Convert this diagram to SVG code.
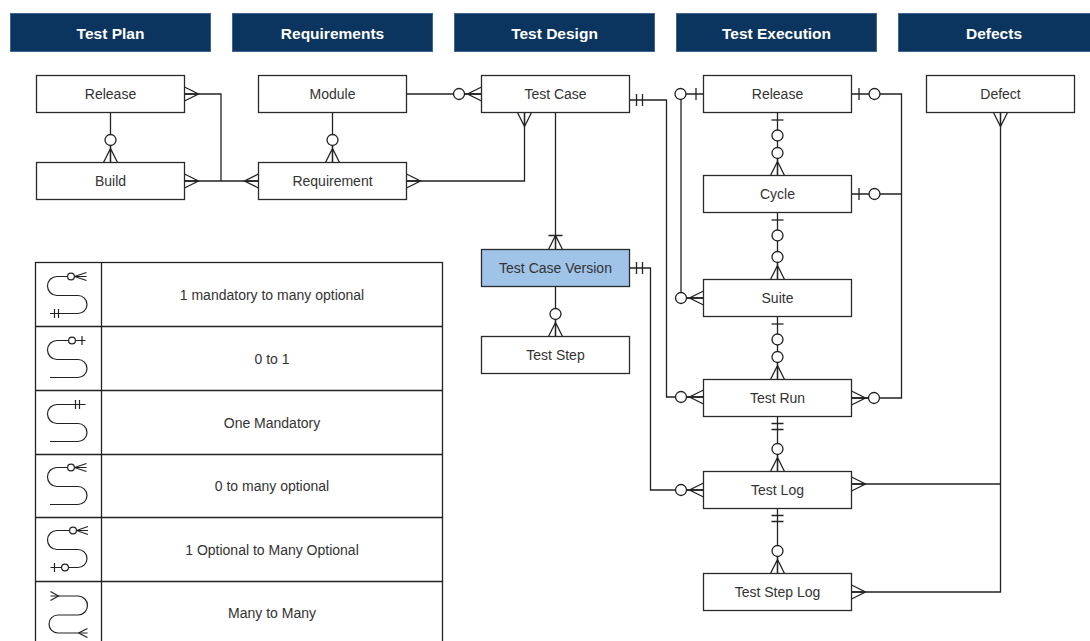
<svg xmlns="http://www.w3.org/2000/svg" xmlns:xlink="http://www.w3.org/1999/xlink" width="1090" height="641" viewBox="0 0 1090 641">
  <style>
    .hdr rect { fill: #0b355f; stroke: #3f6592; stroke-width: 1; }
    .hdr text { fill: #ffffff; font-family: "Liberation Sans", Arial, sans-serif; font-size: 15.5px; font-weight: bold; text-anchor: middle; }
    .ent rect { fill: #ffffff; stroke: #2a2a2a; stroke-width: 1.3; }
    .ent.hl rect { fill: #a0c3e8; }
    .ent text, .legend text { fill: #333333; font-family: "Liberation Sans", Arial, sans-serif; font-size: 14px; text-anchor: middle; }
    .wire { fill: none; stroke: #222222; stroke-width: 1.3; }
    .mk { fill: none; stroke: #222222; stroke-width: 1.3; }
    .mk circle { fill: #ffffff; }
    .legend .grid { fill: none; stroke: #222222; stroke-width: 1.3; }
    .legend .sym { fill: none; stroke: #222222; stroke-width: 1.2; }
    .legend .sym circle { fill: #ffffff; }
  </style>
  <defs>
    <!-- connector ends: box edge at origin, line leaves along +x -->
    <g id="many" class="mk"><path d="M0,-7 L14,0 L0,7 M0,0 H14"/></g>
    <g id="zeroMany" class="mk"><path d="M0,-7 L14,0 L0,7 M0,0 H17"/><circle cx="22.5" cy="0" r="5.5"/></g>
    <g id="oneMany" class="mk"><path d="M0,-7 L14,0 L0,7 M0,0 H14 M14,-7 V7"/></g>
    <g id="zeroOne" class="mk"><path d="M7.5,-6 V6"/><circle cx="23" cy="0" r="5.5"/></g>
    <g id="mandOne" class="mk"><path d="M7,-6 V6 M13,-6 V6"/></g>
  </defs>

  <!-- section headers -->
  <g id="headers" class="hdr">
    <g id="hdr-test-plan"><rect x="10.5" y="13.5" width="200" height="38"/><text x="110.5" y="38.5">Test Plan</text></g>
    <g id="hdr-requirements"><rect x="232.5" y="13.5" width="200" height="38"/><text x="332.5" y="38.5">Requirements</text></g>
    <g id="hdr-test-design"><rect x="454.5" y="13.5" width="200" height="38"/><text x="554.5" y="38.5">Test Design</text></g>
    <g id="hdr-test-execution"><rect x="676.5" y="13.5" width="200" height="38"/><text x="776.5" y="38.5">Test Execution</text></g>
    <g id="hdr-defects"><rect x="898.5" y="13.5" width="200" height="38"/><text x="994" y="38.5">Defects</text></g>
  </g>

  <!-- relationship lines -->
  <g id="connectors">
    <path class="wire" d="M110.5 112.5 V162.5"/>
    <path class="wire" d="M184.5 94 H221 V181"/>
    <path class="wire" d="M184.5 181 H258.5"/>
    <path class="wire" d="M332.5 112.5 V162.5"/>
    <path class="wire" d="M406.5 94 H481.5"/>
    <path class="wire" d="M406.5 181 H524.5 V112.5"/>
    <path class="wire" d="M555.5 112.5 V249.5"/>
    <path class="wire" d="M555.5 286.5 V336.5"/>
    <path class="wire" d="M629.5 100 H666.5 V397 H703.5"/>
    <path class="wire" d="M629.5 268 H650.5 V490 H703.5"/>
    <path class="wire" d="M703.5 94 H681 V298 H703.5"/>
    <path class="wire" d="M777.5 112.5 V175.5"/>
    <path class="wire" d="M777.5 212.5 V279.5"/>
    <path class="wire" d="M777.5 316.5 V379.5"/>
    <path class="wire" d="M777.5 416.5 V471.5"/>
    <path class="wire" d="M777.5 508.5 V573.5"/>
    <path class="wire" d="M851.5 94 H901.5 V398 H851.5"/>
    <path class="wire" d="M851.5 194 H901.5"/>
    <path class="wire" d="M1000.5 112.5 V592 H851.5"/>
    <path class="wire" d="M851.5 484 H1000.5"/>

    <!-- end symbols -->
    <use xlink:href="#zeroMany" transform="translate(110.5 162.5) rotate(-90)"/>
    <use xlink:href="#many" transform="translate(184.5 94)"/>
    <use xlink:href="#many" transform="translate(184.5 181)"/>
    <use xlink:href="#many" transform="translate(258.5 181) rotate(180)"/>
    <use xlink:href="#zeroMany" transform="translate(332.5 162.5) rotate(-90)"/>
    <use xlink:href="#zeroMany" transform="translate(481.5 94) rotate(180)"/>
    <use xlink:href="#many" transform="translate(406.5 181)"/>
    <use xlink:href="#many" transform="translate(524.5 112.5) rotate(90)"/>
    <use xlink:href="#oneMany" transform="translate(555.5 249.5) rotate(-90)"/>
    <use xlink:href="#zeroMany" transform="translate(555.5 336.5) rotate(-90)"/>
    <use xlink:href="#mandOne" transform="translate(629.5 100)"/>
    <use xlink:href="#zeroMany" transform="translate(703.5 397) rotate(180)"/>
    <use xlink:href="#mandOne" transform="translate(629.5 268)"/>
    <use xlink:href="#zeroMany" transform="translate(703.5 490) rotate(180)"/>
    <use xlink:href="#zeroOne" transform="translate(703.5 94) rotate(180)"/>
    <use xlink:href="#zeroMany" transform="translate(703.5 298) rotate(180)"/>
    <use xlink:href="#zeroOne" transform="translate(777.5 112.5) rotate(90)"/>
    <use xlink:href="#zeroMany" transform="translate(777.5 175.5) rotate(-90)"/>
    <use xlink:href="#zeroOne" transform="translate(777.5 212.5) rotate(90)"/>
    <use xlink:href="#zeroMany" transform="translate(777.5 279.5) rotate(-90)"/>
    <use xlink:href="#zeroOne" transform="translate(777.5 316.5) rotate(90)"/>
    <use xlink:href="#zeroMany" transform="translate(777.5 379.5) rotate(-90)"/>
    <use xlink:href="#mandOne" transform="translate(777.5 416.5) rotate(90)"/>
    <use xlink:href="#zeroMany" transform="translate(777.5 471.5) rotate(-90)"/>
    <use xlink:href="#mandOne" transform="translate(777.5 508.5) rotate(90)"/>
    <use xlink:href="#zeroMany" transform="translate(777.5 573.5) rotate(-90)"/>
    <use xlink:href="#zeroOne" transform="translate(851.5 94)"/>
    <use xlink:href="#zeroOne" transform="translate(851.5 194)"/>
    <use xlink:href="#zeroMany" transform="translate(851.5 398)"/>
    <use xlink:href="#many" transform="translate(1000.5 112.5) rotate(90)"/>
    <use xlink:href="#many" transform="translate(851.5 484)"/>
    <use xlink:href="#many" transform="translate(851.5 592)"/>
  </g>

  <!-- entities -->
  <g id="tp-release" class="ent"><rect x="36.5" y="75.5" width="148" height="37"/><text x="110.5" y="99">Release</text></g>
  <g id="tp-build" class="ent"><rect x="36.5" y="162.5" width="148" height="37"/><text x="110.5" y="186">Build</text></g>
  <g id="module" class="ent"><rect x="258.5" y="75.5" width="148" height="37"/><text x="332.5" y="99">Module</text></g>
  <g id="requirement" class="ent"><rect x="258.5" y="162.5" width="148" height="37"/><text x="332.5" y="186">Requirement</text></g>
  <g id="test-case" class="ent"><rect x="481.5" y="75.5" width="148" height="37"/><text x="555.5" y="99">Test Case</text></g>
  <g id="test-case-version" class="ent hl"><rect x="481.5" y="249.5" width="148" height="37"/><text x="555.5" y="273">Test Case Version</text></g>
  <g id="test-step" class="ent"><rect x="481.5" y="336.5" width="148" height="37"/><text x="555.5" y="360">Test Step</text></g>
  <g id="te-release" class="ent"><rect x="703.5" y="75.5" width="148" height="37"/><text x="777.5" y="99">Release</text></g>
  <g id="cycle" class="ent"><rect x="703.5" y="175.5" width="148" height="37"/><text x="777.5" y="199">Cycle</text></g>
  <g id="suite" class="ent"><rect x="703.5" y="279.5" width="148" height="37"/><text x="777.5" y="303">Suite</text></g>
  <g id="test-run" class="ent"><rect x="703.5" y="379.5" width="148" height="37"/><text x="777.5" y="403">Test Run</text></g>
  <g id="test-log" class="ent"><rect x="703.5" y="471.5" width="148" height="37"/><text x="777.5" y="495">Test Log</text></g>
  <g id="test-step-log" class="ent"><rect x="703.5" y="573.5" width="148" height="37"/><text x="777.5" y="597">Test Step Log</text></g>
  <g id="defect" class="ent"><rect x="926.5" y="75.5" width="148" height="37"/><text x="1000.5" y="99">Defect</text></g>

  <!-- notation legend -->
  <g id="legend" class="legend">
    <rect class="grid" x="35.5" y="262.5" width="407" height="384"/>
    <path class="grid" d="M101.5 262.5 V646 M35.5 326.5 H442.5 M35.5 390.5 H442.5 M35.5 454.5 H442.5 M35.5 517.5 H442.5 M35.5 581.5 H442.5"/>

    <!-- 1 mandatory to many optional -->
    <g class="sym">
      <path d="M67.5 276.5 H57 A9.5 9.5 0 0 0 57 295.5 H78 A9 9 0 0 1 78 313.5 H50"/>
      <path d="M74.5 276.5 L86.5 272.5 M74.5 276.5 L86.5 280.5 M74.5 276.5 H86.5 M54.5 309 V318 M58.5 309 V318"/>
      <circle cx="71" cy="276.5" r="3.4"/>
    </g>
    <!-- 0 to 1 -->
    <g class="sym">
      <path d="M68.5 340.5 H57 A9.5 9.5 0 0 0 57 359.5 H78 A9 9 0 0 1 78 377.5 H50"/>
      <path d="M75.5 340.5 H85.5 M82 336 V345"/>
      <circle cx="72" cy="340.5" r="3.4"/>
    </g>
    <!-- One Mandatory -->
    <g class="sym">
      <path d="M85.5 404.5 H57 A9.5 9.5 0 0 0 57 423.5 H78 A9 9 0 0 1 78 441.5 H50"/>
      <path d="M75.5 400 V409 M79.5 400 V409"/>
    </g>
    <!-- 0 to many optional -->
    <g class="sym">
      <path d="M67.5 467.5 H57 A9.5 9.5 0 0 0 57 486.5 H78 A9 9 0 0 1 78 504.5 H50"/>
      <path d="M74.5 467.5 L86.5 463.5 M74.5 467.5 L86.5 471.5 M74.5 467.5 H86.5"/>
      <circle cx="71" cy="467.5" r="3.4"/>
    </g>
    <!-- 1 Optional to Many Optional -->
    <g class="sym">
      <path d="M69.5 530.5 H57 A9.5 9.5 0 0 0 57 549.5 H78 A9 9 0 0 1 78 567.5 H68.5 M61.5 567.5 H50.5"/>
      <path d="M76.5 530.5 L88 526.5 M76.5 530.5 L88 534.5 M76.5 530.5 H88 M54.5 563 V572"/>
      <circle cx="73" cy="530.5" r="3.4"/>
      <circle cx="65" cy="567.5" r="3.4"/>
    </g>
    <!-- Many to Many -->
    <g class="sym">
      <path d="M50.5 596 H78 A9.5 9.5 0 0 1 78 615 H58 A9 9 0 0 0 58 633 H87.5"/>
      <path d="M50.5 591.5 L58.5 596 L50.5 600.5 M78.5 633 L87.5 628.5 M78.5 633 L87.5 637.5"/>
    </g>

    <text x="272" y="299.5">1 mandatory to many optional</text>
    <text x="272" y="363.5">0 to 1</text>
    <text x="272" y="427.5">One Mandatory</text>
    <text x="272" y="491">0 to many optional</text>
    <text x="272" y="554.5">1 Optional to Many Optional</text>
    <text x="272" y="617.5">Many to Many</text>
  </g>
</svg>
